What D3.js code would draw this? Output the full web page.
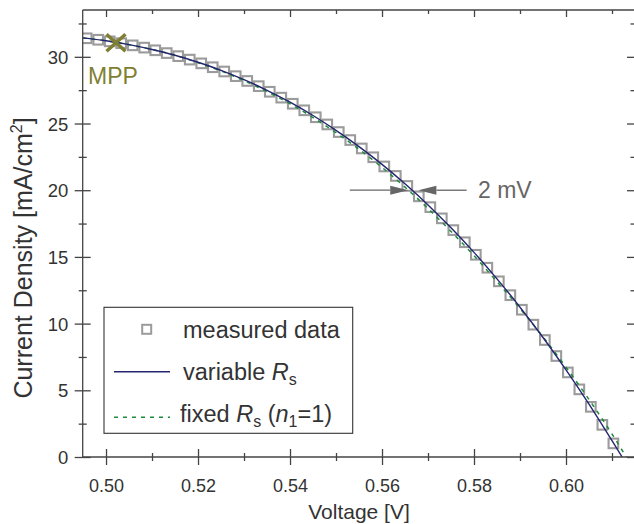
<!DOCTYPE html>
<html><head><meta charset="utf-8">
<script src="https://cdn.jsdelivr.net/npm/d3@7"></script>
<style>
html,body{margin:0;padding:0;background:#fff;}
svg text{font-family:Arial,"Liberation Sans",Helvetica,sans-serif;}
</style></head>
<body><svg id="c" width="634" height="524"></svg>
<script>
// measured data (V, mA/cm2)
const voltage = [0.4958,0.4983,0.5008,0.5033,0.5058,0.5083,0.5107,0.5132,0.5157,0.5182,0.5207,0.5232,0.5257,0.5282,0.5307,0.5332,0.5356,0.5381,0.5406,0.5431,0.5456,0.5481,0.5506,0.5531,0.5556,0.5581,0.5605,0.5630,0.5655,0.5680,0.5705,0.5730,0.5755,0.5780,0.5804,0.5829,0.5854,0.5879,0.5904,0.5929,0.5954,0.5979,0.6004,0.6029,0.6054,0.6079,0.6103];
const current = [31.39,31.28,31.16,31.02,30.86,30.69,30.49,30.28,30.05,29.79,29.51,29.22,28.90,28.55,28.19,27.80,27.38,26.94,26.48,25.99,25.47,24.93,24.36,23.76,23.13,22.47,21.78,21.07,20.32,19.54,18.73,17.89,17.01,16.10,15.16,14.19,13.17,12.13,11.04,9.92,8.77,7.57,6.34,5.07,3.76,2.41,1.02];
// fit: variable Rs
const fitVarV = [0.4949,0.500,0.505,0.510,0.515,0.520,0.525,0.530,0.535,0.540,0.545,0.550,0.555,0.560,0.565,0.570,0.575,0.580,0.585,0.590,0.595,0.600,0.605,0.610,0.6122];
const fitVarJ = [31.42,31.20,30.91,30.55,30.12,29.59,28.99,28.29,27.49,26.60,25.60,24.49,23.27,21.94,20.48,18.90,17.18,15.34,13.35,11.23,8.96,6.53,3.96,1.22,0.0];
// fit: fixed Rs (n1=1)
const fitFixV = [0.4949,0.500,0.505,0.510,0.515,0.520,0.525,0.530,0.535,0.540,0.545,0.550,0.555,0.560,0.565,0.570,0.575,0.580,0.585,0.590,0.595,0.600,0.605,0.610,0.6131];
const fitFixJ = [31.42,31.20,30.91,30.55,30.12,29.56,28.94,28.21,27.39,26.48,25.45,24.31,23.07,21.71,20.23,18.63,16.91,15.09,13.15,11.13,9.01,6.73,4.31,1.72,0.0];
// MPP
const mppV = 0.50217, mppJ = 31.05;
// 2 mV annotation
const arrowJ = 20.0;
const arrowLeft = [0.5530, 0.5657];   // tail, tip
const arrowRight = [0.5784, 0.5679];  // tail, tip
// ticks
const xMajor = [0.50,0.52,0.54,0.56,0.58,0.60];
const xMinor = [0.51,0.53,0.55,0.57,0.59,0.61];
const yMajor = [0,5,10,15,20,25,30];
const yMinor = [2.5,7.5,12.5,17.5,22.5,27.5,32.5];

const svg = d3.select("#c");
const L=82.7, R=635, T=10, B=457;
const x = d3.scaleLinear().domain([0.49493,0.61500]).range([L,R]);
const y = d3.scaleLinear().domain([0,33.51]).range([B,T]);
const axisCol = "#444", txtCol = "#333";

svg.append("defs").append("clipPath").attr("id","clip").append("rect")
  .attr("x",L).attr("y",T).attr("width",R-L).attr("height",B-T);

const plot = svg.append("g").attr("clip-path","url(#clip)");

// measured squares
plot.selectAll("rect.pt").data(voltage).join("rect").attr("class","pt")
  .attr("x",(d,i)=>x(d)-4.8).attr("y",(d,i)=>y(current[i])-4.8)
  .attr("width",9.6).attr("height",9.6).attr("fill","none")
  .attr("stroke","#9b9b9b").attr("stroke-width",2.1);

const lineGen = (V,J)=>d3.line().x((d,i)=>x(V[i])).y((d,i)=>y(J[i])).curve(d3.curveMonotoneX)(V);
plot.append("path").attr("d",lineGen(fitFixV,fitFixJ)).attr("fill","none")
  .attr("stroke","#1e8c3c").attr("stroke-width",1.5).attr("stroke-dasharray","4,5");
plot.append("path").attr("d",lineGen(fitVarV,fitVarJ)).attr("fill","none")
  .attr("stroke","#25256e").attr("stroke-width",1.4);

// frame
svg.append("line").attr("x1",L).attr("x2",R).attr("y1",T).attr("y2",T).attr("stroke",axisCol).attr("stroke-width",1.3);
svg.append("line").attr("x1",R).attr("x2",R).attr("y1",T).attr("y2",B).attr("stroke",axisCol).attr("stroke-width",1.3);

function crossTicks(g, horizontal, len){
  g.select(".domain").remove();
  g.selectAll(".tick line").attr("stroke",axisCol).attr("stroke-width",1.3)
   .each(function(){ const s=d3.select(this);
     if(horizontal){ s.attr("y1",-len).attr("y2",len); } else { s.attr("x1",-len).attr("x2",len); } });
}
// bottom axis
const gxMin = svg.append("g").attr("transform",`translate(0,${B})`)
  .call(d3.axisBottom(x).tickValues(xMinor).tickFormat(""));
crossTicks(gxMin,true,4);
const gx = svg.append("g").attr("transform",`translate(0,${B})`)
  .call(d3.axisBottom(x).tickValues(xMajor).tickFormat(d3.format(".2f")));
crossTicks(gx,true,8);
gx.selectAll(".tick text").attr("y",34.5).attr("dy",0).attr("fill",txtCol)
  .style("font-size","18px");
svg.append("line").attr("x1",L).attr("x2",R).attr("y1",B).attr("y2",B).attr("stroke",axisCol).attr("stroke-width",1.3);

// left axis
const gyMin = svg.append("g").attr("transform",`translate(${L},0)`)
  .call(d3.axisLeft(y).tickValues(yMinor).tickFormat(""));
crossTicks(gyMin,false,4);
const gy = svg.append("g").attr("transform",`translate(${L},0)`)
  .call(d3.axisLeft(y).tickValues(yMajor).tickFormat(d3.format("d")));
crossTicks(gy,false,8);
gy.selectAll(".tick text").attr("x",-14.4).attr("dy","0.35em").attr("fill",txtCol)
  .style("font-size","18.5px");
svg.append("line").attr("x1",L).attr("x2",L).attr("y1",T).attr("y2",B).attr("stroke",axisCol).attr("stroke-width",1.3);

// top axis (inward ticks)
const gt = svg.append("g").attr("transform",`translate(0,${T})`)
  .call(d3.axisBottom(x).tickValues(xMajor).tickSize(7).tickFormat(""));
gt.select(".domain").remove(); gt.selectAll("line").attr("stroke",axisCol).attr("stroke-width",1.3);
const gtm = svg.append("g").attr("transform",`translate(0,${T})`)
  .call(d3.axisBottom(x).tickValues(xMinor).tickSize(4).tickFormat(""));
gtm.select(".domain").remove(); gtm.selectAll("line").attr("stroke",axisCol).attr("stroke-width",1.3);
// right axis (inward ticks)
const gr = svg.append("g").attr("transform",`translate(${R},0)`)
  .call(d3.axisLeft(y).tickValues(yMajor).tickSize(8).tickFormat(""));
gr.select(".domain").remove(); gr.selectAll("line").attr("stroke",axisCol).attr("stroke-width",1.3);
const grm = svg.append("g").attr("transform",`translate(${R},0)`)
  .call(d3.axisLeft(y).tickValues(yMinor).tickSize(4.5).tickFormat(""));
grm.select(".domain").remove(); grm.selectAll("line").attr("stroke",axisCol).attr("stroke-width",1.3);

// axis titles
svg.append("text").attr("x",359).attr("y",519).attr("text-anchor","middle")
  .attr("fill",txtCol).style("font-size","21px").text("Voltage [V]");
const yt = svg.append("text").attr("transform","translate(32,258) rotate(-90)")
  .attr("text-anchor","middle").attr("fill",txtCol).style("font-size","25px");
yt.append("tspan").text("Current Density [mA/cm");
yt.append("tspan").attr("dy",-10).style("font-size","16px").text("2");
yt.append("tspan").attr("dy",10).text("]");

// MPP marker
const olive = "#7f7f33";
const mx = x(mppV), my = y(mppJ);
svg.append("path").attr("d",`M${mx-9.5},${my-8.5}L${mx+9.5},${my+8.5}M${mx-9.5},${my+8.5}L${mx+9.5},${my-8.5}`)
  .attr("stroke",olive).attr("stroke-width",3.5).attr("fill","none");
svg.append("text").attr("x",88).attr("y",83.5).attr("fill",olive).style("font-size","23px").text("MPP");

// 2 mV arrows
const ac = "#666";
const ay = y(arrowJ);
function arrow(tail, tip){
  const xt=x(tail), xp=x(tip), dir = xp>xt?1:-1;
  const hl=18, hw=4.5;
  svg.append("line").attr("x1",xt).attr("x2",xp-dir*hl).attr("y1",ay).attr("y2",ay).attr("stroke",ac).attr("stroke-width",1.3);
  svg.append("path").attr("d",`M${xp},${ay}L${xp-dir*hl},${ay-hw}L${xp-dir*hl},${ay+hw}Z`).attr("fill",ac);
}
arrow(arrowLeft[0],arrowLeft[1]);
arrow(arrowRight[0],arrowRight[1]);
svg.append("text").attr("x",478).attr("y",197.5).attr("fill",ac).style("font-size","23px").text("2 mV");

// legend
const lg = svg.append("g");
lg.append("rect").attr("x",104).attr("y",307.3).attr("width",248.7).attr("height",126)
  .attr("fill","#fff").attr("stroke","#333").attr("stroke-width",1.1);
lg.append("rect").attr("x",146.7-4.5).attr("y",329.3-4.5).attr("width",9).attr("height",9)
  .attr("fill","none").attr("stroke","#9b9b9b").attr("stroke-width",2);
lg.append("line").attr("x1",114).attr("x2",170).attr("y1",371.7).attr("y2",371.7).attr("stroke","#25256e").attr("stroke-width",1.5);
lg.append("line").attr("x1",114).attr("x2",170).attr("y1",417.3).attr("y2",417.3).attr("stroke","#1e8c3c").attr("stroke-width",1.5).attr("stroke-dasharray","4,5");
const fs="23.5px";
lg.append("text").attr("x",183).attr("y",337.5).attr("fill",txtCol).style("font-size",fs).text("measured data");
const t2 = lg.append("text").attr("x",183).attr("y",379.5).attr("fill",txtCol).style("font-size",fs);
t2.append("tspan").text("variable ");
t2.append("tspan").style("font-style","italic").text("R");
t2.append("tspan").attr("dy",5).style("font-size","16px").text("s");
const t3 = lg.append("text").attr("x",180).attr("y",422).attr("fill",txtCol).style("font-size",fs);
t3.append("tspan").text("fixed ");
t3.append("tspan").style("font-style","italic").text("R");
t3.append("tspan").attr("dy",5).style("font-size","16px").text("s");
t3.append("tspan").attr("dy",-5).text(" (");
t3.append("tspan").style("font-style","italic").text("n");
t3.append("tspan").attr("dy",5).style("font-size","16px").text("1");
t3.append("tspan").attr("dy",-5).text("=1)");
</script></body></html>
